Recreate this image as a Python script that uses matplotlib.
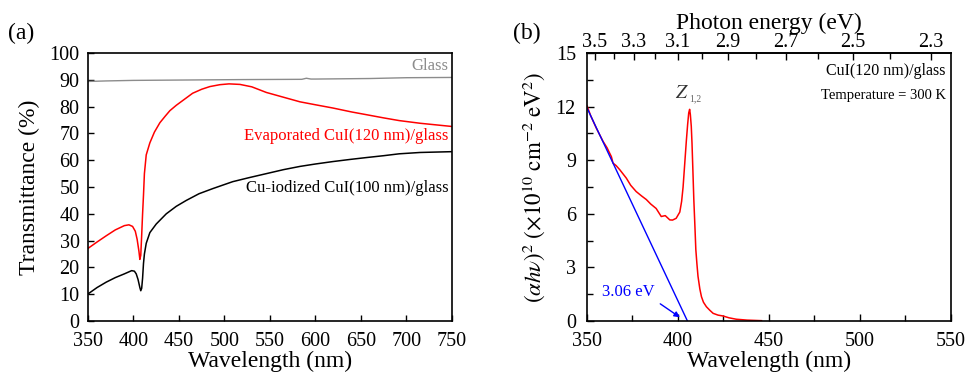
import matplotlib
matplotlib.use("Agg")
import matplotlib.pyplot as plt
import numpy as np

plt.rcParams['font.family'] = ['Liberation Serif', 'DejaVu Serif']
plt.rcParams['mathtext.fontset'] = 'stix'

# ---------------- Panel (a) data ----------------
glass_wl = [350, 370, 400, 480, 520, 585, 590, 595, 600, 660, 700, 750]
glass_T = [89.4, 89.6, 89.8, 90.0, 90.1, 90.2, 90.6, 90.3, 90.3, 90.5, 90.8, 90.9]

evap_wl = [350, 360, 370, 380, 390, 395, 399, 402, 404, 406, 407, 408, 409, 410, 411, 412,
           414, 418, 423, 429, 435, 440, 447, 455, 465, 475, 484, 495, 505, 517, 530,
           546, 565, 583, 600, 619, 640, 656, 675, 692, 715, 750]
evap_T = [27.1, 29.5, 31.8, 34.0, 35.6, 35.9, 35.3, 33.5, 30.5, 26.0, 23.0, 24.5, 32.0, 40.0,
          47.0, 55.0, 62.0, 66.5, 70.5, 74.0, 76.5, 78.5, 80.5, 82.5, 85.0, 86.5, 87.5, 88.2,
          88.5, 88.3, 87.4, 85.3, 83.5, 81.8, 80.7, 79.5, 78.0, 77.0, 75.8, 74.8, 73.8, 72.6]

cu_wl = [350, 360, 370, 380, 390, 398, 401, 403, 405, 407, 408, 409, 410, 411, 412, 414,
         418, 425, 436, 447, 458, 472, 487, 498, 509, 527, 546, 565, 583, 600, 619, 638,
         656, 675, 692, 715, 750]
cu_T = [10.1, 12.5, 14.5, 16.2, 17.6, 18.8, 18.6, 17.6, 15.5, 12.5, 11.3, 12.2, 16.0, 21.5,
        25.0, 29.0, 33.0, 36.2, 40.0, 42.8, 45.0, 47.5, 49.4, 50.7, 52.0, 53.5, 55.0, 56.5,
        57.7, 58.6, 59.5, 60.3, 61.0, 61.7, 62.4, 62.9, 63.2]

# ---------------- Panel (b) data ----------------
tauc_wl = [350, 352, 355.1, 358.8, 361, 363.4, 364.3, 366, 368, 371.6, 374, 377, 380, 382.6,
           385, 388, 390.8, 393, 395.5, 397, 399, 401, 402, 402.8, 403.7, 404.6, 405.3,
           405.9, 406.4, 406.8, 407.3, 407.7, 408.2, 408.7, 409.3, 409.8, 410.4, 411, 412,
           412.9, 414, 415.6, 417.5, 419.3, 422, 424.8, 428, 432, 438, 445.9]
tauc_y = [12.05, 11.5, 10.8, 10.06, 9.7, 9.2, 8.84, 8.7, 8.47, 8.0, 7.6, 7.25, 7.0, 6.8,
          6.55, 6.3, 5.85, 5.9, 5.66, 5.65, 5.75, 6.1, 6.7, 7.5, 8.8, 10.1, 11.0, 11.65, 11.85,
          11.55, 10.9, 9.96, 8.4, 6.8, 5.3, 4.0, 3.2, 2.5, 1.8, 1.36, 1.05, 0.8, 0.6, 0.43,
          0.33, 0.28, 0.18, 0.1, 0.05, 0.02]

fit_wl = [350, 405.2]
fit_y = [11.93, 0.0]

gap_label = "3.06 eV"
gap_arrow_from = (389, 1.05)
gap_arrow_to = (402.3, 0.12)

fig = plt.figure(figsize=(9.68, 3.79), dpi=100)

# ---------------- Panel (a) ----------------
axa = fig.add_axes([0.0909, 0.153, 0.376, 0.707])
axa.plot(glass_wl, glass_T, color='#8c8c8c', lw=1.0)
axa.plot(evap_wl, evap_T, color='#ff0000', lw=1.1)
axa.plot(cu_wl, cu_T, color='black', lw=1.1)
axa.set_xlim(350, 750)
axa.set_ylim(0, 100)
axa.set_xticks(np.arange(350, 751, 50))
axa.set_yticks(np.arange(0, 101, 10))
axa.tick_params(direction='in', length=4, width=1, labelsize=14.5, top=False, right=False)
axa.tick_params(axis='x', pad=8)
axa.tick_params(axis='y', pad=6)
for s in axa.spines.values():
    s.set_linewidth(1.2)
axa.set_xlabel('Wavelength (nm)', fontsize=17, labelpad=0)
axa.set_ylabel('Transmittance (%)', fontsize=17, labelpad=7)
axa.text(746, 95.2, 'Glass', color='#8c8c8c', fontsize=12, ha='right', va='center')
axa.text(746, 69.2, 'Evaporated CuI(120 nm)/glass', color='#ff0000', fontsize=12,
         ha='right', va='center')
axa.text(746, 49.8, 'Cu-iodized CuI(100 nm)/glass', color='black', fontsize=12,
         ha='right', va='center')
fig.text(0.008, 0.912, '(a)', fontsize=17, ha='left', va='center')

# ---------------- Panel (b) ----------------
axb = fig.add_axes([0.6064, 0.153, 0.376, 0.707])
axb.plot(tauc_wl, tauc_y, color='#ff0000', lw=1.1)
axb.plot(fit_wl, fit_y, color='#0000ff', lw=1.0)
axb.set_xlim(350, 550)
axb.set_ylim(0, 15)
axb.set_xticks(np.arange(350, 551, 50))
axb.set_xticks(np.arange(375, 551, 50), minor=True)
axb.set_yticks(np.arange(0, 16, 3))
axb.set_yticks(np.arange(1.5, 15, 3), minor=True)
axb.tick_params(which='both', direction='in', width=1, labelsize=14.5, top=False, right=False)
axb.tick_params(axis='x', which='both', pad=8)
axb.tick_params(axis='y', which='both', pad=8)
axb.tick_params(which='major', length=5)
axb.tick_params(which='minor', length=4)
for s in axb.spines.values():
    s.set_linewidth(1.2)
axb.set_xlabel('Wavelength (nm)', fontsize=17, labelpad=0)
axb.set_ylabel(r'$(\alpha h\nu)^{2}\ (\times10^{10}\ \mathrm{cm}^{-2}\ \mathrm{eV}^{2})$',
               fontsize=16.5, labelpad=6)

def wl2e(w):
    w = np.asarray(w, dtype=float)
    with np.errstate(divide='ignore'):
        return np.where(w != 0, 1240.0 / np.where(w != 0, w, 1), np.inf)

sec = axb.secondary_xaxis('top', functions=(wl2e, wl2e))
sec.set_xticks([3.5, 3.3, 3.1, 2.9, 2.7, 2.5, 2.3])
sec.set_xticks([3.4, 3.2, 3.0, 2.8, 2.6, 2.4], minor=True)
sec.tick_params(which='both', direction='in', width=1, labelsize=14.5, pad=1)
sec.tick_params(which='major', length=5)
sec.tick_params(which='minor', length=4)
sec.spines['top'].set_linewidth(1.2)
sec.set_xlabel('Photon energy (eV)', fontsize=17, labelpad=3)

axb.annotate('', xy=gap_arrow_to, xytext=gap_arrow_from,
             arrowprops=dict(arrowstyle='-|>', color='#0000ff', lw=1.0, mutation_scale=8))
axb.text(372.8, 1.65, gap_label, color='#0000ff', fontsize=12, ha='center', va='center')
axb.text(405.8, 12.75, r'$Z$', color='#333333', fontsize=14, ha='right', va='center')
axb.text(405.9, 12.45, '1,2', color='#666666', fontsize=7, ha='left', va='center')
axb.text(547, 14.0, 'CuI(120 nm)/glass', fontsize=11.5, ha='right', va='center')
axb.text(547, 12.65, 'Temperature = 300 K', fontsize=10.5, ha='right', va='center')
fig.text(0.530, 0.912, '(b)', fontsize=17, ha='left', va='center')

fig.savefig('out.png', dpi=100)
